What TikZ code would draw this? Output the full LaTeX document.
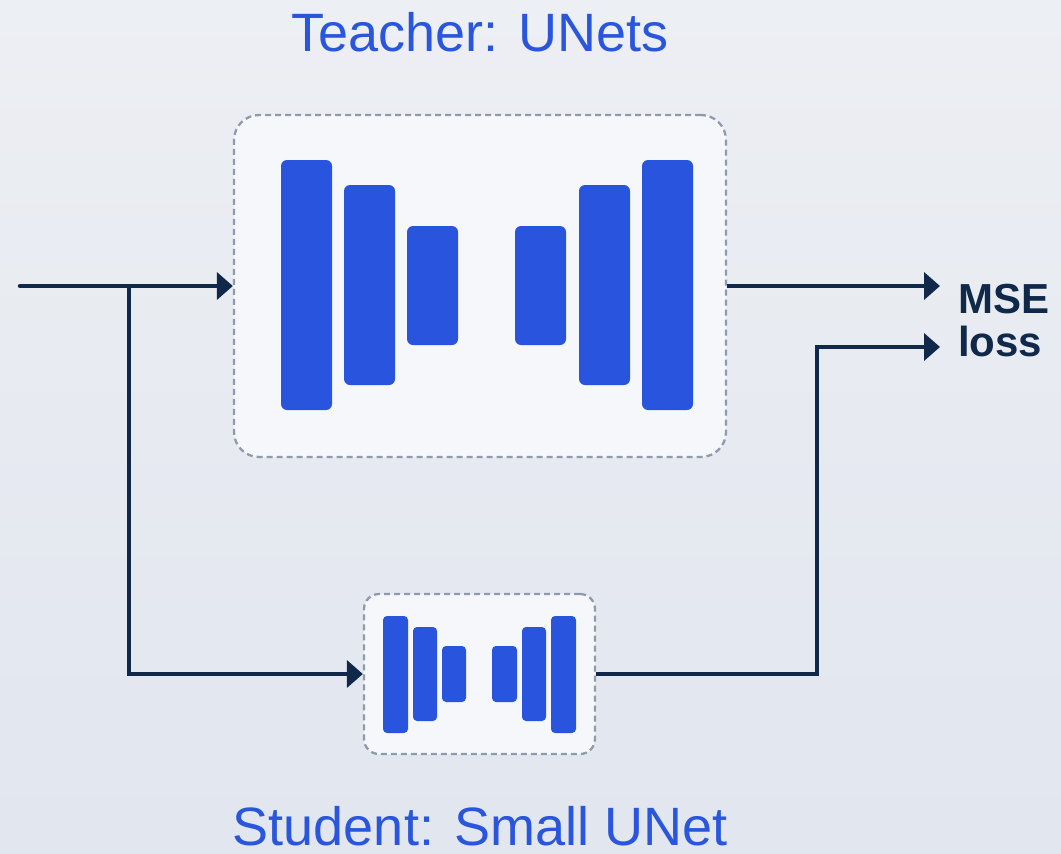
\documentclass[tikz,border=0pt]{standalone}
\usepackage{fontspec}
\setmainfont{Liberation Sans}
\usetikzlibrary{arrows.meta}
\definecolor{bgA}{HTML}{F0F2F5}
\definecolor{bgB}{HTML}{E2E6EF}
\definecolor{boxfill}{HTML}{F6F7FA}
\definecolor{boxline}{HTML}{8E9AB0}
\definecolor{barblue}{HTML}{2955DE}
\definecolor{navy}{HTML}{10294A}
\definecolor{titleblue}{HTML}{2A56DD}
\tikzset{
  unetbox/.style={draw=boxline, line width=2.3pt, dash pattern=on 6pt off 4pt, fill=boxfill, inner sep=0pt},
  bar/.style={fill=barblue, draw=none, rounded corners=#1},
  bar/.default=6pt,
  conn/.style={draw=navy, line width=4.5pt},
  arr/.style={conn, -{Triangle[length=16pt,width=27pt]}},
  title/.style={text=titleblue, font=\fontsize{54}{60}\selectfont, inner sep=0pt, anchor=base},
  losstxt/.style={text=navy, font=\bfseries\fontsize{42}{46}\selectfont, inner sep=0pt, anchor=base west}
}
\begin{document}
\begin{tikzpicture}[x=1pt,y=-1pt]
\useasboundingbox (0,0) rectangle (1061,854);
\shade[left color=bgA, right color=bgB, shading angle=0] (0,0) rectangle (1061,854);
\shade[top color=bgA!60!bgB, bottom color=bgB, opacity=0.5] (0,0) rectangle (1061,854);

% titles
\node[title] (tt) at (480,51) {Teacher: UNets};
\node[title] (st) at (480,845) {Student: Small UNet};

% teacher box
\node[unetbox, rounded corners=25pt, minimum width=492pt, minimum height=342pt] (T) at (480,286) {};
\fill[bar] (281,160) rectangle (332,410);
\fill[bar] (344,185) rectangle (395,385);
\fill[bar] (407,226) rectangle (458,345);
\fill[bar] (515,226) rectangle (566,345);
\fill[bar] (579,185) rectangle (630,385);
\fill[bar] (642,160) rectangle (693,410);

% student box
\node[unetbox, rounded corners=15pt, minimum width=231pt, minimum height=160pt] (S) at (479.5,674) {};
\fill[bar=4pt] (383,616) rectangle (408,733);
\fill[bar=4pt] (413,627) rectangle (437,721);
\fill[bar=4pt] (442,646) rectangle (466,702);
\fill[bar=4pt] (492,646) rectangle (517,702);
\fill[bar=4pt] (522,627) rectangle (546,721);
\fill[bar=4pt] (551,616) rectangle (576,733);

% loss text
\node[losstxt] (mse) at (958,313) {MSE};
\node[losstxt] (loss) at (958,356) {loss};

% connectors
\coordinate (in) at (20,286);
\coordinate (br) at (129,286);
\coordinate (o1) at (940,286);
\coordinate (o2) at (940,347);
\coordinate (k) at (817,347);
\draw[arr, line cap=round] (in) -- (T.west);
\draw[arr] (br) |- (S.west);
\draw[arr] (T.east) -- (o1);
\draw[arr] (S.east) -| (k) -- (o2);
\end{tikzpicture}
\end{document}
